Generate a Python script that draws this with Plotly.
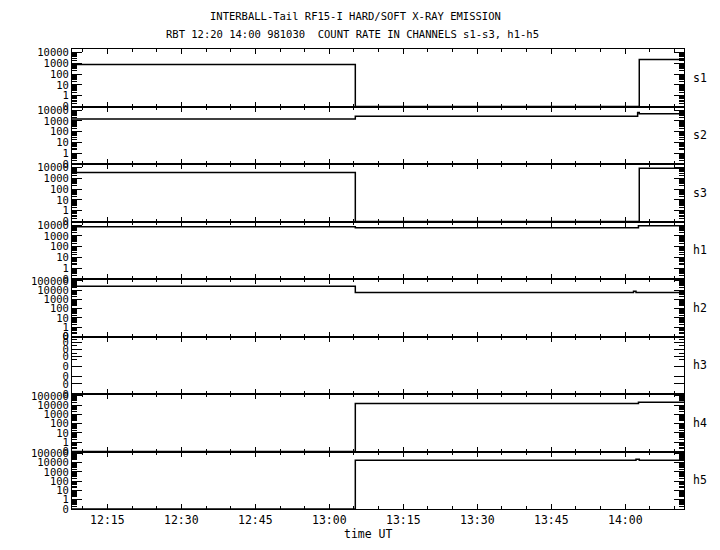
import plotly.graph_objects as go
from plotly.subplots import make_subplots

DAY = "1998-10-30 "

channels = ["s1", "s2", "s3", "h1", "h2", "h3", "h4", "h5"]
# step-wise count rates: (times, values) per channel
s1_t = ["12:07:50", "13:05:16", "14:02:50", "14:11:54"]
s1 = [800, 0, 2300, 2300]
s2_t = ["12:07:50", "13:05:16", "14:02:30", "14:02:50", "14:11:54"]
s2 = [1500, 2600, 6000, 4500, 4500]
s3_t = ["12:07:50", "13:05:16", "14:02:50", "14:11:54"]
s3 = [3500, 0, 8500, 8500]
h1_t = ["12:07:50", "13:05:16", "14:02:40", "14:11:54"]
h1 = [6800, 5500, 8500, 8500]
h2_t = ["12:07:50", "13:05:16", "14:01:40", "14:02:10", "14:11:54"]
h2 = [27000, 5600, 7500, 5600, 5600]
h3_t = ["12:07:50", "14:11:54"]
h3 = [0, 0]
h4_t = ["12:07:50", "13:05:16", "14:02:40", "14:11:54"]
h4 = [0, 15000, 20000, 20000]
h5_t = ["12:07:50", "13:05:16", "14:02:10", "14:02:50", "14:11:54"]
h5 = [0, 18000, 23000, 18000, 18000]
times = [s1_t, s2_t, s3_t, h1_t, h2_t, h3_t, h4_t, h5_t]
series = [s1, s2, s3, h1, h2, h3, h4, h5]

# log10 axis ranges per panel
yranges = [[-1, 4.33], [-1, 4.33], [-1, 4.33], [-1, 4.33],
           [-1, 5.2], [-1, 0], [-1, 5.2], [-1, 5.2]]
tick_low = ["10000", "1000", "100", "10", "1", "0"]
tick_low_v = [10000, 1000, 100, 10, 1, 0.1]
tick_hi = ["100000"] + tick_low
tick_hi_v = [100000] + tick_low_v
h3_tick_v = [0.1, 0.15, 0.2, 0.3, 0.45, 0.6, 0.8, 1.0]

title1 = "INTERBALL-Tail RF15-I HARD/SOFT X-RAY EMISSION"
title2 = "RBT 12:20 14:00 981030  COUNT RATE IN CHANNELS s1-s3, h1-h5"
xlabel = "time UT"
x_start = DAY + "12:07:50"
x_end = DAY + "14:11:54"

FONT = "DejaVu Sans Mono"
FS = 10.5

fig = make_subplots(rows=8, cols=1, shared_xaxes=True, vertical_spacing=0)

for i, (name, tl, vals) in enumerate(zip(channels, times, series)):
    lo = 10 ** yranges[i][0]
    ys = [v if v > lo else lo for v in vals]
    xs = [DAY + t for t in tl]
    fig.add_trace(go.Scatter(x=xs, y=ys, mode="lines",
                             line=dict(color="black" if name != "h3" else "rgba(0,0,0,0)", width=1.5, shape="hv"),
                             showlegend=False, hoverinfo="skip"), row=i + 1, col=1)
    if name == "h3":
        tv = h3_tick_v
        tt = ["0"] * len(tv)
    elif yranges[i][1] > 5:
        tv, tt = tick_hi_v, tick_hi
    else:
        tv, tt = tick_low_v, tick_low
    fig.update_yaxes(type="log", range=yranges[i], tickvals=tv, ticktext=tt,
                     ticks="inside", ticklen=10, tickwidth=1, tickcolor="black",
                     minor=dict(ticks="inside", ticklen=5, tickcolor="black", dtick="D1", showgrid=False),
                     showline=True, linecolor="black", linewidth=1, mirror="ticks",
                     showgrid=False, zeroline=False,
                     tickfont=dict(family=FONT, size=FS, color="black"),
                     row=i + 1, col=1)
    fig.add_annotation(text=name, xref="paper", x=1 + 16 / 612, xanchor="center",
                       yref="y%s domain" % ("" if i == 0 else i + 1), y=0.5, yanchor="middle",
                       showarrow=False, font=dict(family=FONT, size=FS + 1, color="black"))

fig.update_xaxes(type="date", range=[x_start, x_end], dtick=900000, tick0=DAY + "12:00:00",
                 tickformat="%H:%M", ticks="inside", ticklen=5, tickwidth=1.3, tickcolor="black",
                 minor=dict(ticks="inside", ticklen=3, dtick=300000, tickcolor="black", showgrid=False),
                 showline=True, linecolor="black", linewidth=1, mirror="ticks",
                 showgrid=False, zeroline=False,
                 tickfont=dict(family=FONT, size=FS + 1, color="black"))

fig.add_annotation(text=xlabel, xref="paper", x=(368 - 72) / 612, yref="paper", y=0, yshift=-25,
                   yanchor="middle", showarrow=False, font=dict(family=FONT, size=FS + 1, color="black"))
fig.add_annotation(text=title1, xref="paper", x=(355 - 72) / 612, yref="paper", y=1, yshift=33,
                   yanchor="middle", showarrow=False, font=dict(family=FONT, size=FS, color="black"))
fig.add_annotation(text=title2, xref="paper", x=(352 - 72) / 612, yref="paper", y=1, yshift=15,
                   yanchor="middle", showarrow=False, font=dict(family=FONT, size=FS, color="black"))

fig.update_layout(width=720, height=550, margin=dict(l=72, r=36, t=49, b=41),
                  plot_bgcolor="white", paper_bgcolor="white")
fig.write_html("out.html", config={"displayModeBar": False},
               post_script="document.body.style.margin='0';")
